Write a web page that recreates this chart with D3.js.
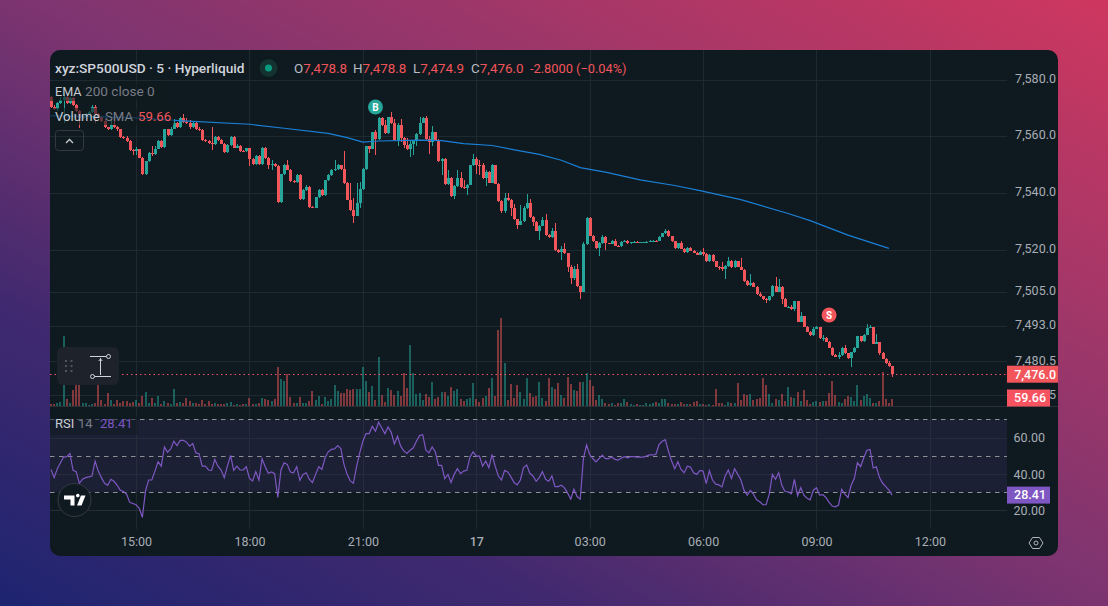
<!DOCTYPE html>
<html><head><meta charset="utf-8">
<script src="https://cdn.jsdelivr.net/npm/d3@7"></script>
<style>
html,body{margin:0;padding:0;width:1108px;height:606px;overflow:hidden;background:#7b3470}
svg{display:block}
text{font-family:"Roboto",sans-serif}
</style></head><body>
<script>
const firstOpen = 7574.0;
const closes = [
7570.4,7569.5,7571.6,7572.8,7573.7,7571.8,7573.4,7571.0,7569.0,7566.3,
7566.9,7567.8,7568.5,7570.4,7567.8,7566.9,7565.4,7563.1,7562.5,7563.8,
7563.3,7562.4,7559.8,7559.5,7558.3,7555.0,7554.7,7555.3,7552.4,7546.5,
7551.1,7553.9,7553.6,7555.6,7558.3,7556.2,7562.4,7560.4,7562.7,7564.7,
7563.1,7566.3,7565.1,7564.7,7563.1,7564.7,7562.4,7562.3,7558.6,7558.3,
7557.6,7557.2,7559.8,7558.6,7557.4,7554.4,7556.8,7559.8,7556.0,7556.5,
7554.8,7554.7,7555.7,7552.0,7550.3,7553.1,7550.1,7555.9,7552.4,7549.7,
7550.1,7549.5,7536.7,7546.5,7549.7,7548.2,7544.2,7543.8,7546.2,7537.9,
7540.9,7542.0,7534.9,7534.8,7538.5,7541.1,7539.1,7544.4,7546.2,7547.9,
7548.5,7549.7,7548.3,7543.4,7537.6,7534.0,7532.0,7536.5,7541.2,7548.5,
7556.4,7555.6,7561.3,7558.9,7566.3,7563.9,7561.2,7566.6,7564.5,7558.6,
7564.1,7559.5,7556.8,7555.4,7557.2,7558.2,7560.9,7564.8,7566.4,7558.9,
7558.0,7561.3,7558.6,7551.2,7552.1,7543.0,7545.3,7538.8,7542.5,7545.3,
7542.0,7541.7,7542.9,7549.7,7552.1,7549.9,7549.7,7545.2,7547.3,7543.6,
7549.7,7543.2,7537.1,7533.7,7538.2,7537.3,7534.6,7530.6,7528.8,7530.0,
7534.7,7536.5,7531.4,7529.6,7526.7,7528.4,7530.4,7525.2,7524.5,7526.7,
7519.9,7519.2,7520.2,7518.6,7514.0,7510.1,7513.1,7507.1,7505.1,7521.9,
7531.2,7524.9,7522.9,7520.4,7522.3,7524.5,7522.2,7522.0,7523.1,7521.3,
7521.2,7522.8,7523.1,7522.2,7522.5,7522.8,7522.6,7522.6,7522.6,7522.8,
7523.1,7523.1,7523.0,7524.5,7525.7,7526.7,7524.6,7522.9,7520.4,7522.2,
7520.3,7519.0,7520.5,7519.6,7518.9,7518.1,7519.3,7518.4,7515.8,7518.1,
7515.8,7514.0,7513.7,7513.1,7514.2,7516.0,7513.7,7515.8,7514.0,7512.8,
7508.9,7507.4,7508.3,7506.9,7504.2,7503.5,7502.4,7502.2,7503.5,7507.2,
7505.1,7506.9,7502.4,7499.8,7499.8,7499.1,7501.8,7494.5,7496.5,7492.7,
7491.0,7489.8,7492.1,7492.5,7488.6,7488.7,7487.4,7485.3,7482.7,7482.1,
7482.7,7485.2,7483.4,7481.7,7483.7,7485.3,7489.4,7487.6,7490.0,7492.4,
7492.6,7486.7,7487.2,7483.6,7481.5,7479.8,7478.8,7476.0];
const upperWicks = [
.3,.5,.6,1.0,1.2,.5,.6,.4,.4,.3,
.3,.5,.4,.6,.5,.4,.3,.6,.3,2.0,
3.0,.4,.3,.3,.4,.3,.5,1.0,.2,.2,
.2,.4,2.5,1.0,.4,.3,.3,.2,.5,1.3,
.3,.5,1.5,1.2,1.0,.4,.3,.8,.3,.3,
.3,5.5,.4,.4,.3,.3,.3,.3,.3,.7,
.3,.3,.3,.3,.4,.4,.3,.3,.3,.2,
1.5,.3,.3,.2,.6,1.8,.3,.3,.3,.3,
.5,.6,.3,.3,.2,.3,.3,.3,.3,.5,
3.0,.4,.3,6.3,.5,5.9,4.1,7.1,2.6,.4,
.3,.3,.3,1.0,.3,.4,1.8,.3,1.8,1.5,
.4,2.0,.2,2.4,1.4,.3,.3,1.8,.3,.6,
1.2,2.2,.3,.3,.3,.3,2.6,.3,.4,2.8,
2.1,2.6,.2,.3,1.5,.6,1.7,1.0,.9,.5,
.4,.3,.3,.3,1.7,1.7,.6,1.3,.3,5.6,
.8,3.0,1.2,.3,.3,.3,.9,2.0,.2,1.0,
2.5,.3,1.0,2.0,.3,.4,1.2,1.8,.2,.6,
.3,.3,.3,.2,.2,.7,.2,.2,.2,.5,
.2,.2,.2,.1,.1,.1,.1,.1,.1,.1,
.1,.1,.1,.2,.2,.6,.2,.2,.2,.2,
.7,.2,.5,.4,.2,.2,.2,1.2,.2,.2,
.2,.2,.2,2.0,.2,1.4,.3,.6,.2,3.0,
.2,.4,3.2,.2,.2,.7,.2,.5,.2,.3,
3.0,2.6,.2,.5,.1,.7,.2,.2,1.3,.2,
.3,.2,.5,.5,.3,1.2,.3,.2,.2,.3,
1.1,.3,1.1,.2,.3,.2,.2,.2,.3,1.2,
.6,.2,3.0,.2,.3,.2,.7,0];
const lowerWicks = [
.3,.4,.5,.4,8.0,.4,.4,.3,.5,3.5,
.3,.3,.3,.3,3.0,.4,.3,.3,.4,.3,
.3,.4,.3,.4,.3,.3,1.3,1.5,.2,.2,
.2,.2,.7,.4,.3,.3,.3,.2,.3,.3,
.2,.3,.3,.3,.4,.3,.3,.3,.3,.3,
.5,2.1,.3,.3,.3,.3,.3,.3,.3,.3,
.3,.3,.3,2.5,.4,.5,.3,.2,.3,1.2,
1.5,.3,.4,.3,.3,.3,.3,.3,.3,.3,
.3,.3,.3,.3,.3,.3,.3,.3,.3,.2,
.2,.3,.3,.2,.3,.3,2.7,.3,2.0,.3,
.3,1.5,.3,5.7,.3,.3,.3,.5,.3,.3,
2.1,1.5,1.0,.3,2.7,3.9,1.5,.4,.3,.3,
4.4,1.5,.2,.3,5.0,.2,.3,.3,1.1,.3,
.3,.2,2.4,.3,.2,3.4,3.5,.3,2.9,.3,
.3,.2,.3,.8,.8,.3,2.6,.3,1.7,.3,
.3,.3,.3,1.2,.3,3.2,.2,.3,.3,.3,
.3,.3,2.9,.3,2.1,2.1,.8,.3,2.5,.2,
.3,.2,.3,.2,2.7,.2,2.2,.1,.2,.2,
.2,.4,.2,.1,.1,.1,.1,.1,.1,.1,
.1,.1,.1,.1,.1,.1,.2,.2,.2,.2,
.2,.2,.2,.2,.3,.2,.2,.6,.2,.2,
.2,.2,1.0,.6,3.5,.2,.3,.2,.2,.2,
.2,.2,.3,.2,.2,.2,.3,1.2,.2,.2,
.2,.2,1.8,.2,.1,.4,.7,.2,.2,.2,
.2,.3,.2,.2,.2,.9,.2,.2,.2,.2,
.7,.3,.2,.2,3.2,.3,.2,.2,.2,.2,
.1,.2,.2,1.0,.2,.2,.2,1.1];
const volumes = [
15,15,20,30,528,50,25,122,175,162,
25,20,10,15,20,162,45,15,100,45,
15,45,25,35,35,25,30,45,20,75,
108,20,62,20,75,15,40,20,15,130,
20,30,20,60,40,20,20,15,45,15,
40,15,25,15,15,15,20,30,10,15,
5,15,15,60,15,15,25,60,50,45,
35,50,295,200,188,240,65,20,20,65,
20,25,35,110,45,75,15,65,40,50,
155,110,100,95,125,120,130,125,130,292,
188,105,150,45,368,82,30,135,120,82,
110,75,248,135,458,245,90,98,45,90,
68,180,52,68,105,105,75,142,112,128,
52,38,52,60,172,52,30,60,75,135,
210,75,570,660,322,45,165,60,158,105,
52,210,98,68,75,180,60,38,210,142,
128,172,82,60,218,165,120,112,180,180,
248,195,150,45,82,52,22,15,22,8,
22,22,52,30,15,10,15,8,8,22,
15,22,30,22,52,52,25,15,15,15,
30,15,15,15,30,38,15,15,8,15,
8,128,22,22,8,30,22,22,172,45,
90,82,90,45,52,62,210,158,90,22,
52,45,90,38,142,68,60,105,38,120,
45,15,30,38,30,38,38,98,188,82,
30,22,52,75,68,38,158,45,75,90,
60,22,22,38,255,52,22,52];
const rsiValues = [
42.5,38.0,42.9,46.2,49.3,49.5,51.3,42.0,41.3,34.9,
37.1,38.0,38.4,38.9,47.1,41.6,38.0,34.9,33.8,37.1,
36.0,33.8,31.1,30.4,28.9,24.4,23.8,23.1,21.1,16.2,
30.7,36.7,36.7,41.6,46.7,44.3,54.9,52.0,53.8,58.0,
55.6,58.5,58.5,57.5,55.3,56.7,51.6,51.1,44.3,44.3,
42.2,42.0,48.0,44.3,42.2,38.0,44.3,50.2,42.0,44.3,
42.2,42.2,44.0,37.6,36.2,41.3,36.7,48.4,44.0,40.4,
41.1,40.2,27.1,42.2,46.2,45.3,41.1,40.7,44.0,36.5,
39.8,40.7,37.1,35.3,39.8,44.0,42.5,48.9,52.2,53.5,
53.8,55.6,54.0,45.3,39.8,36.2,34.9,44.0,51.6,58.0,
62.2,62.2,66.2,63.5,68.4,65.3,62.2,65.8,62.9,56.5,
60.7,55.3,52.7,51.3,53.1,54.4,58.0,61.1,61.6,53.1,
51.6,54.9,52.2,44.7,44.7,37.5,39.8,35.3,39.8,42.9,
40.2,41.6,42.0,49.3,52.2,49.8,49.8,44.3,47.1,43.5,
50.7,44.3,38.9,36.7,42.0,41.1,38.4,35.3,34.0,36.7,
43.5,44.9,40.4,38.9,36.0,38.0,41.3,37.1,36.0,38.9,
33.1,33.1,33.8,32.4,29.5,26.2,31.6,27.6,26.2,48.4,
56.0,50.7,48.5,46.7,48.5,50.4,48.4,48.4,49.3,48.0,
47.6,48.7,49.5,48.9,49.5,49.5,49.3,49.3,49.3,49.8,
50.5,50.5,50.7,56.2,58.0,58.9,52.5,47.1,42.9,46.7,
42.5,40.7,44.3,43.8,40.7,39.8,42.0,41.6,34.7,41.8,
36.7,34.4,34.0,32.9,38.9,42.2,37.6,42.9,39.8,36.7,
31.1,28.4,30.9,28.9,25.8,24.7,23.1,23.1,28.9,39.8,
37.1,40.7,33.8,30.4,30.2,29.1,37.1,28.0,32.5,28.4,
26.7,25.8,31.1,32.5,28.4,28.7,27.1,24.4,22.4,22.0,
22.9,31.6,28.9,27.1,33.8,37.5,46.2,44.0,48.9,53.1,
53.5,43.3,44.0,38.0,34.9,33.1,31.1,28.41];
const emaBars = [0,13,26,42,63,74,88,94,99,104,117,124,131,140,148,155,162,168,176,187,198,206,219,234,241,253,266];
const emaValues = [7567.2,7566.9,7566.5,7565.4,7564.2,7562.8,7561.0,7559.5,7557.9,7558.3,7558.6,7558.4,7557.4,7556.7,7555.0,7553.6,7551.5,7548.9,7547.3,7544.6,7542.6,7540.8,7537.6,7532.7,7530.2,7525.1,7520.4];
const priceTicks = [7580,7560,7540,7520,7505,7493,7480.5,7468.5];
const rsiTicks = [60,40,20];
const rsiLevels = [70,50,30];
const timeBars = [27,63,99,135,171,207,243,279];
const timeLabels = ["15:00","18:00","21:00","17","03:00","06:00","09:00","12:00"];
const signals = [{bar:103,price:7570.3,label:"B",color:"#26a69a"},{bar:247,price:7496.9,label:"S",color:"#f2555a"}];
const lastPrice = 7476.0, volumeSma = 59.66, lastRsi = 28.41;

const UP="#26a69a", DOWN="#f2555a";
const opens = closes.map((c,i)=> i? closes[i-1] : firstOpen);
const isUp = i => closes[i] >= opens[i];

const svg = d3.select("body").append("svg").attr("width",1108).attr("height",606);
const defs = svg.append("defs");
const bg = defs.append("linearGradient").attr("id","bg").attr("x1","0").attr("y1","1").attr("x2","1").attr("y2","0");
[[0,"#1e2470"],[.25,"#40296f"],[.5,"#7b3470"],[.75,"#a53768"],[1,"#ce375f"]].forEach(s=>bg.append("stop").attr("offset",s[0]).attr("stop-color",s[1]));
defs.append("clipPath").attr("id","card").append("rect").attr("x",50).attr("y",50).attr("width",1008).attr("height",506).attr("rx",10);
defs.append("clipPath").attr("id","pane").append("rect").attr("x",50).attr("y",50).attr("width",957).attr("height",480);

svg.append("rect").attr("width",1108).attr("height",606).attr("fill","url(#bg)");
const root = svg.append("g").attr("clip-path","url(#card)");
root.append("rect").attr("x",50).attr("y",50).attr("width",1008).attr("height",506).attr("fill","#0f1a20");

const x = d3.scaleLinear().domain([0,279]).range([51,929.9]);
const y = d3.scaleLinear().domain([7580,7476]).range([79.5,374.2]);
const vy = d3.scaleLinear().domain([0,660]).range([406,318]);
const ry = d3.scaleLinear().domain([70,20]).range([419.4,510.4]);
const px = v => Math.round(v);

const GRID="#1d2a30";
const plot = root.append("g").attr("clip-path","url(#pane)");
// grid
plot.selectAll(".vg").data(timeBars).join("line").attr("x1",d=>px(x(d))+.5).attr("x2",d=>px(x(d))+.5).attr("y1",50).attr("y2",529).attr("stroke",GRID);
plot.selectAll(".hg").data(priceTicks).join("line").attr("x1",50).attr("x2",1007).attr("y1",d=>px(y(d))+.5).attr("y2",d=>px(y(d))+.5).attr("stroke",GRID);
// rsi band
plot.append("rect").attr("x",50).attr("width",957).attr("y",ry(70)).attr("height",ry(30)-ry(70)).attr("fill","#1b2034");
plot.selectAll(".rg").data(rsiTicks).join("line").attr("x1",50).attr("x2",1007).attr("y1",d=>px(ry(d))+.5).attr("y2",d=>px(ry(d))+.5).attr("stroke","#262c3a");
plot.selectAll(".vg2").data(timeBars).join("line").attr("x1",d=>px(x(d))+.5).attr("x2",d=>px(x(d))+.5).attr("y1",ry(70)).attr("y2",ry(30)).attr("stroke","#262c3a");
// pane separator
root.append("line").attr("x1",50).attr("x2",1058).attr("y1",406.5).attr("y2",406.5).attr("stroke","#2c3138");

// volume
plot.append("g").attr("shape-rendering","crispEdges").selectAll("rect").data(volumes).join("rect")
  .attr("x",(d,i)=>px(x(i))-1).attr("width",2.4)
  .attr("y",d=>vy(d)).attr("height",d=>vy(0)-vy(d))
  .attr("fill",(d,i)=>isUp(i)?"#26a69a":"#f2555a").attr("fill-opacity",.5);

// candles
const cg = plot.append("g").attr("shape-rendering","crispEdges");
cg.selectAll("line").data(closes).join("line")
  .attr("x1",(d,i)=>px(x(i))+.5).attr("x2",(d,i)=>px(x(i))+.5)
  .attr("y1",(d,i)=>y(Math.max(opens[i],closes[i])+upperWicks[i]))
  .attr("y2",(d,i)=>y(Math.min(opens[i],closes[i])-lowerWicks[i]))
  .attr("stroke",(d,i)=>isUp(i)?UP:DOWN).attr("stroke-width",1);
cg.selectAll("rect").data(closes).join("rect")
  .attr("x",(d,i)=>px(x(i))-1).attr("width",3)
  .attr("y",(d,i)=>y(Math.max(opens[i],closes[i])))
  .attr("height",(d,i)=>Math.max(1,Math.abs(y(opens[i])-y(closes[i]))))
  .attr("fill",(d,i)=>isUp(i)?UP:DOWN);

// EMA
plot.append("path").datum(emaValues).attr("fill","none").attr("stroke","#1b7fd6").attr("stroke-width",1.2)
  .attr("d",d3.line().x((d,i)=>x(emaBars[i])).y(d=>y(d)));

// last price line
plot.append("line").attr("x1",50).attr("x2",1007).attr("y1",px(y(lastPrice))+.5).attr("y2",px(y(lastPrice))+.5)
  .attr("stroke","#f7525f").attr("stroke-width",1).attr("stroke-dasharray","1.5 3");

// signals
const sg = plot.selectAll(".sig").data(signals).join("g").attr("transform",d=>`translate(${x(d.bar)},${y(d.price)})`);
sg.append("circle").attr("r",7.5).attr("fill",d=>d.color);
sg.append("text").text(d=>d.label).attr("text-anchor","middle").attr("y",3.7).attr("font-size",10).attr("font-weight",700).attr("fill","#fff");

// RSI levels
plot.selectAll(".lv").data(rsiLevels).join("line").attr("x1",50).attr("x2",1007).attr("y1",d=>px(ry(d))+.5).attr("y2",d=>px(ry(d))+.5)
  .attr("stroke","#8f8f96").attr("stroke-dasharray","4.5 4.5");
// RSI
plot.append("path").datum(rsiValues).attr("fill","none").attr("stroke","#7e57c2").attr("stroke-width",1.2)
  .attr("d",d3.line().x((d,i)=>x(i)).y(d=>ry(d)));

// axes
const LABEL="#a9adb5";
const priceAxis = d3.axisRight(y).tickValues(priceTicks).tickSize(0).tickPadding(0).tickFormat(d3.format(",.1f"));
const pa = root.append("g").attr("transform","translate(1056,0)").call(priceAxis);
pa.select(".domain").remove();
pa.selectAll("text").attr("x",0).attr("text-anchor","end").attr("dy","0.32em").attr("fill",LABEL).attr("font-size",12.5).attr("font-family","Roboto,sans-serif");
pa.selectAll(".tick").attr("transform",d=>`translate(0,${y(d)-0.8})`);

const rsiAxis = d3.axisRight(ry).tickValues(rsiTicks).tickSize(0).tickPadding(0).tickFormat(d3.format(".2f"));
const ra = root.append("g").attr("transform","translate(1045,0)").call(rsiAxis);
ra.select(".domain").remove();
ra.selectAll("text").attr("x",0).attr("text-anchor","end").attr("dy","0.32em").attr("fill",LABEL).attr("font-size",12.5).attr("font-family","Roboto,sans-serif");

const timeAxis = d3.axisBottom(x).tickValues(timeBars).tickSize(0).tickPadding(0).tickFormat((d,i)=>timeLabels[i]);
const ta = root.append("g").attr("transform","translate(0,537)").call(timeAxis);
ta.select(".domain").remove();
ta.selectAll("text").attr("fill",LABEL).attr("font-size",12.5).attr("font-family","Roboto,sans-serif").attr("font-weight",(d,i)=>timeLabels[i]==="17"?500:400).attr("y",0).attr("dy","0.71em");

// price tags
function tag(x0,x1,yc,fill,txt){
  root.append("rect").attr("x",x0).attr("y",yc-8.5).attr("width",x1-x0).attr("height",17).attr("fill",fill);
  root.append("text").text(txt).attr("x",x1===1058?1056:x1-4).attr("y",yc+4.3).attr("text-anchor","end").attr("font-size",12.5).attr("font-weight",500).attr("fill","#fff");
}
tag(1007,1058,y(lastPrice),"#f2555a",d3.format(",.1f")(lastPrice));
tag(1007,1050,398,"#f7525f",volumeSma.toFixed(2));
tag(1007,1050,ry(lastRsi),"#7e57c2",lastRsi.toFixed(2));

// legends
const lg = root.append("g").attr("font-size",13);
lg.append("rect").attr("x",50).attr("y",83).attr("width",118).attr("height",18).attr("fill","#0f1a20").attr("fill-opacity",.6);
lg.append("rect").attr("x",50).attr("y",108).attr("width",124).attr("height",17).attr("fill","#0f1a20").attr("fill-opacity",.6);
lg.append("rect").attr("x",50).attr("y",415).attr("width",88).attr("height",20).attr("fill","#0f1a20").attr("fill-opacity",.5);
function label(px,py,t,fill,size){const e=lg.append("text").attr("x",px).attr("y",py).text(t).attr("fill",fill); if(size) e.attr("font-size",size); return e;}
label(55,72.5,"xyz:SP500USD · 5 · Hyperliquid","#d1d4dc",13.7).attr("font-weight",500);
lg.append("circle").attr("cx",268.5).attr("cy",68).attr("r",9).attr("fill","#14322f");
lg.append("circle").attr("cx",268.5).attr("cy",68).attr("r",3.5).attr("fill","#089981");
const ohlc=[[294,"O","7,478.8"],[353,"H","7,478.8"],[413,"L","7,474.9"],[471,"C","7,476.0"]];
ohlc.forEach(o=>{const t=label(o[0],72.5,o[1],"#b8bcc4",13.4); t.append("tspan").text(o[2]).attr("fill",DOWN);});
label(530,72.5,"-2.8000 (−0.04%)",DOWN,12.8);
label(55,96,"EMA","#c9ccd3",12.6);
label(85,96,"200 close 0","#787b86",13.6);
label(55,120.5,"Volume","#c9ccd3",13.2);
label(105,120.5,"SMA","#787b86",13.2);
label(138,120.5,"59.66",DOWN,13.2);
label(55,427.5,"RSI","#c9ccd3");
label(78,427.5,"14","#787b86");
label(100,427.5,"28.41","#7e57c2");

// collapse button
lg.append("rect").attr("x",55.5).attr("y",130.5).attr("width",28).attr("height",20).attr("rx",3).attr("fill","none").attr("stroke","#33393f");
lg.append("path").attr("d","M66 143l3.5-3.5 3.5 3.5").attr("fill","none").attr("stroke","#c9ccd3").attr("stroke-width",1.3);

// measure tool
const mt = root.append("g");
mt.append("rect").attr("x",57).attr("y",347).attr("width",62).attr("height",38).attr("rx",6).attr("fill","#1e222b");
[[66,361],[71.5,361],[66,366],[71.5,366],[66,371],[71.5,371]].forEach(p=>mt.append("rect").attr("x",p[0]-1).attr("y",p[1]-1).attr("width",2).attr("height",2).attr("fill","#50535e"));
mt.append("path").attr("d","M90 356.5h16.5M94 376.5h17M100.5 358v17M98.7 361l1.8-2 1.8 2").attr("fill","none").attr("stroke","#d1d4dc").attr("stroke-width",1);
mt.append("circle").attr("cx",108.5).attr("cy",356.5).attr("r",2).attr("fill","#1e222b").attr("stroke","#d1d4dc");
mt.append("circle").attr("cx",92.5).attr("cy",376.5).attr("r",2).attr("fill","#1e222b").attr("stroke","#d1d4dc");

// logo
const lo = root.append("g");
lo.append("circle").attr("cx",74.5).attr("cy",500).attr("r",16.5).attr("fill","#0f1a20").attr("stroke","#363a45").attr("stroke-width",1);
lo.append("path").attr("d","M64 495.5h10.5v10h-4v-6h-6.5zM76 495.5a1.8 1.8 0 1 1 0 .1zM81 495.5h4.5l-4 10h-4.5z").attr("fill","#fff");

// settings icon
root.append("path").attr("d","M1032.5 537.5h7l3.5 5.5-3.5 5.5h-7l-3.5-5.5z").attr("fill","none").attr("stroke","#b2b5be");
root.append("circle").attr("cx",1036).attr("cy",543).attr("r",2).attr("fill","none").attr("stroke","#b2b5be");
</script>
</body></html>
